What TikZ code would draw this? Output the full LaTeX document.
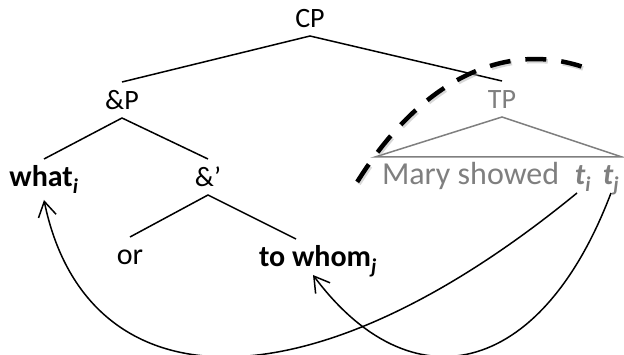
\documentclass[tikz,border=0pt]{standalone}
\usepackage{fontspec}
\setmainfont{Carlito}
\usetikzlibrary{arrows.meta,calc}
\definecolor{treegray}{HTML}{7F7F7F}
\begin{document}
\begin{tikzpicture}[x=1pt,y=-1pt,
  lbl/.style={font=\fontsize{28}{32}\selectfont, anchor=base, inner xsep=1pt,
    inner ysep=8pt, text height=20pt, text depth=0pt, outer sep=0pt},
  leaf/.style={lbl, font=\fontsize{30}{34}\selectfont},
  branch/.style={line width=1.5pt},
  faded/.style={treegray},
  move/.style={line width=1.5pt, -{Straight Barb[length=15pt,width=18pt]}},
  cutline/.style={line width=4.5pt, dash pattern=on 21pt off 15pt},
]
\useasboundingbox (0,0) rectangle (624,355);

% tree labels
\node[lbl] (cp) at (310,28) {CP};
\node[lbl] (andp) at (122,110) {\&P};
\node[lbl,faded] (tp) at (502,109) {TP};
\node[leaf] (what) at (44,187) {\textbf{what\textsubscript{\itshape i}}};
\node[lbl] (amp) at (208,187) {\&’};
\node[leaf] (or) at (130,265) {or};
\node[leaf] (whom) at (318,267) {\textbf{to whom\textsubscript{\itshape j}}};
\node[leaf,faded,anchor=base west,font=\fontsize{32}{36}\selectfont] (mary) at (381,185) {Mary showed};
\node[leaf,faded] (ti) at (583,185) {\textbf{\itshape t\textsubscript{i}}};
\node[leaf,faded] (tj) at (611,185) {\textbf{\itshape t\textsubscript{j}}};

% branches
\draw[branch] (andp.north) -- (cp.south) -- (tp.north);
\draw[branch] (what.north) -- (andp.south) -- (amp.north);
\draw[branch] (or.north) -- (amp.south) -- ($(whom.north)+(-22,0)$);

% TP triangle
\coordinate (tbl) at (375,157);
\coordinate (tbr) at (622,157);
\draw[branch,faded] (tp.south) -- (tbl) -- (tbr) -- cycle;

% dashed boundary with its shadow
\draw[cutline,black!30,opacity=0.5,shift={(1.5,2)}]
  plot[domain=-131:-78,samples=80] ({535+271*cos(\x)},{560+501*sin(\x)});
\draw[cutline]
  plot[domain=-131:-78,samples=80] ({535+271*cos(\x)},{560+501*sin(\x)});

% movement arrows
\draw[move] ([xshift=-6pt]ti.south) .. controls (300,420) and (85,400) .. ([yshift=-5pt]what.south);
\draw[move] (tj.south) .. controls (540,380) and (410,405) .. ([xshift=-5pt]whom.south);
\end{tikzpicture}
\end{document}
